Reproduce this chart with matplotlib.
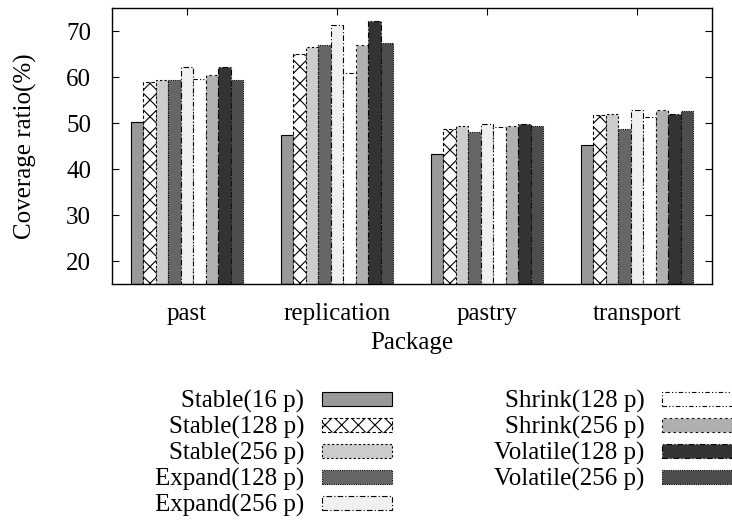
import matplotlib
matplotlib.use("Agg")
import matplotlib.pyplot as plt
import numpy as np

plt.rcParams['font.family'] = ['Liberation Serif', 'DejaVu Serif']
plt.rcParams['hatch.linewidth'] = 0.8

categories = ["past", "replication", "pastry", "transport"]
series_names = ["Stable(16 p)", "Stable(128 p)", "Stable(256 p)", "Expand(128 p)",
                "Expand(256 p)", "Shrink(128 p)", "Shrink(256 p)",
                "Volatile(128 p)", "Volatile(256 p)"]

stable16 = [50.3, 47.4, 43.2, 45.3]
stable128 = [58.9, 65.0, 48.8, 51.7]
stable256 = [59.3, 66.6, 49.4, 52.0]
expand128 = [59.3, 67.0, 48.1, 48.8]
expand256 = [62.1, 71.4, 49.7, 52.8]
shrink128 = [59.5, 60.9, 49.1, 51.3]
shrink256 = [60.4, 66.9, 49.4, 52.8]
volatile128 = [62.1, 72.2, 49.7, 52.0]
volatile256 = [59.3, 67.5, 49.3, 52.6]

values = [stable16, stable128, stable256, expand128, expand256,
          shrink128, shrink256, volatile128, volatile256]

facecolors = ["#999999", "white", "#cccccc", "#666666", "#f0f0f0",
              "white", "#b0b0b0", "#333333", "#4d4d4d"]
hatches = [None, "xx", None, None, None, None, None, None, None]
linestyles = ["-", (0, (3, 2)), (0, (2, 2)), (0, (1, 1)), (0, (5, 2, 1, 2)),
              (0, (4, 2, 1, 2, 1, 2)), (0, (2, 3)), (0, (5, 2, 1, 2)), (0, (1, 1))]

fig = plt.figure(figsize=(7.32, 5.25), dpi=100)
ax = fig.add_axes([112/732, 1-284/525, 600/732, 276/525])

x = np.arange(len(categories))
n = len(values)
w = 1/12
handles = []
for i, (vals, fc, h, ls, name) in enumerate(zip(values, facecolors, hatches, linestyles, series_names)):
    offs = (i - (n-1)/2) * w
    bc = ax.bar(x + offs, [v - 15 for v in vals], width=w, bottom=15, color=fc,
                edgecolor="black", linewidth=0.8, linestyle=ls, hatch=h, label=name)
    handles.append(bc)

ax.set_xlim(-0.5, 3.5)
ax.set_ylim(15, 75)
ax.set_yticks([20, 30, 40, 50, 60, 70])
ax.set_xticks(x)
ax.set_xticklabels(categories)
ax.tick_params(axis='both', direction='in', labelsize=18, length=5, width=0.8)
ax.tick_params(axis='x', bottom=False, top=True, pad=14)
ax.tick_params(axis='y', left=True, right=True, pad=15)
for s in ax.spines.values():
    s.set_linewidth(1.0)

ax.set_xlabel("Package", fontsize=18, labelpad=5)
ax.set_ylabel("Coverage ratio(%)", fontsize=18, labelpad=21)

fig.legend(handles=handles, labels=series_names, loc='upper left',
           bbox_to_anchor=(155/732, 1-390/525), ncol=2, frameon=False,
           markerfirst=False, fontsize=18, borderpad=0, borderaxespad=0,
           handlelength=2.8, handleheight=0.52, handletextpad=0.7,
           labelspacing=0.12, columnspacing=4.1)

fig.savefig("out.png", dpi=100)
